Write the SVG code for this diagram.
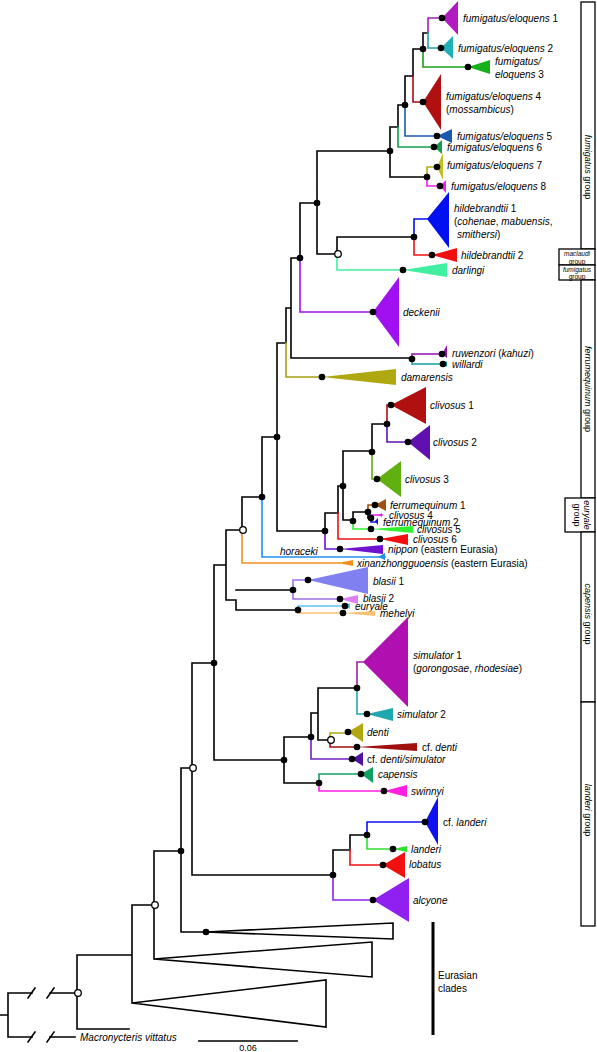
<svg xmlns="http://www.w3.org/2000/svg" width="597" height="1052" viewBox="0 0 597 1052">
<style>
.b{fill:none;stroke-width:1.6;stroke-linecap:square;stroke-linejoin:miter}
.k{stroke:#000}
.d{fill:#000}
.oc{fill:#fff;stroke:#000;stroke-width:1.3}
.eu{fill:#fff;stroke:#000;stroke-width:1.6;stroke-linejoin:miter}
text{font-family:"Liberation Sans",Arial,sans-serif;font-size:10px;fill:#000}
.i{font-style:italic}
.g{font-size:9px}
.s{font-size:6.5px}
.box{fill:#fff;stroke:#000;stroke-width:1.3}
</style>
<rect width="597" height="1052" fill="#fff"/>
<g id="connectors">
<path class="b k" d="M428,33 H423 V49 H413 V76 H405 V105 H398 V127 H390 V177 H427 M390,151 H317 V254 H337 V237 H414 M317,203 H300 V258 H291 V358 H412 M291,308 H286 V343 H277 V531 H325 V513 H338 V486 H343 V451 H372 V424 H387 M343,486 V520 H353 V512 H368 V518 H371 M277,437 H262 V497 H242 V530 H226 V600 H236 V610 H298 M236,590 H293 M226,565 H214 V760 H284 V737 H311 V713 H318 V688 H357 M318,713 V740 H330 M284,760 V783 H319 M214,663 H192 V875 H333 V850 H350 V835 H367 M192,768 H181 V932 H206 M181,851 H154 V959 M154,905 H132 V1003 M132,955 H77 V1029 H129 M77,993 H50 M32,993 H8 V1037 H32 M50,1037 H75 M0,1015 H8"/>
<path class="b k" d="M28,998 L35,988 M47,998 L54,988 M28,1042 L35,1032 M47,1042 L54,1032" stroke-linecap="butt"/>
<path class="b" stroke="#a020c0" d="M442,18 H428 V33"/>
<path class="b" stroke="#20a8b0" d="M428,33 V48 H441"/>
<path class="b" stroke="#18a018" d="M423,49 V67 H468"/>
<path class="b" stroke="#a01010" d="M413,76 V102 H423"/>
<path class="b" stroke="#1a5ab0" d="M405,105 V136 H437"/>
<path class="b" stroke="#10a050" d="M398,127 V147 H434"/>
<path class="b" stroke="#b0b010" d="M427,177 V167 H437"/>
<path class="b" stroke="#f020f0" d="M427,177 V186 H440"/>
<path class="b" stroke="#0010f0" d="M414,237 V219 H427"/>
<path class="b" stroke="#f01010" d="M414,237 V255 H432"/>
<path class="b" stroke="#40f0a0" d="M337,254 V270 H403"/>
<path class="b" stroke="#a010f0" d="M300,258 V312 H373"/>
<path class="b" stroke="#9010b0" d="M412,359 V354 H442"/>
<path class="b" stroke="#10a0a0" d="M412,359 V364 H443"/>
<path class="b" stroke="#a8a010" d="M286,343 V377 H322"/>
<path class="b" stroke="#b01010" d="M387,424 V405 H391"/>
<path class="b" stroke="#6010b0" d="M387,424 V442 H408"/>
<path class="b" stroke="#60b010" d="M372,452 V479 H377"/>
<path class="b" stroke="#a05010" d="M368,512 V505 H375"/>
<path class="b" stroke="#e020f0" d="M371,518 V515 H382"/>
<path class="b" stroke="#1010e0" d="M371,518 V522 H377"/>
<path class="b" stroke="#30f030" d="M353,521 V529 H371"/>
<path class="b" stroke="#f01010" d="M338,513 V539 H380"/>
<path class="b" stroke="#7010d0" d="M325,531 V549 H340"/>
<path class="b" stroke="#2090f0" d="M262,497 V557 H385"/>
<path class="b" stroke="#f09020" d="M242,530 V563 H340"/>
<path class="b" stroke="#a070e0" d="M293,590 V580 H308 M293,590 V599 H340"/>
<path class="b" stroke="#60c0f0" d="M298,610 V606 H345"/>
<path class="b" stroke="#f8c070" d="M298,610 V613 H343"/>
<path class="b" stroke="#a020a0" d="M357,688 V662 H363"/>
<path class="b" stroke="#20a8b0" d="M357,688 V714 H367"/>
<path class="b" stroke="#b0a810" d="M330,740 V733 H348"/>
<path class="b" stroke="#a01010" d="M330,740 V747 H357"/>
<path class="b" stroke="#7020c0" d="M311,737 V759 H352"/>
<path class="b" stroke="#10a060" d="M319,783 V774 H361"/>
<path class="b" stroke="#ff20e0" d="M319,783 V791 H384"/>
<path class="b" stroke="#1010f0" d="M367,835 V822 H425"/>
<path class="b" stroke="#30e030" d="M367,835 V849 H393"/>
<path class="b" stroke="#f01010" d="M350,850 V865 H383"/>
<path class="b" stroke="#9020f0" d="M333,875 V900 H373"/>
</g>
<g id="support">
<circle class="d" cx="423" cy="49" r="3.3"/><circle class="d" cx="405" cy="105" r="3.3"/><circle class="d" cx="390" cy="151" r="3.3"/><circle class="d" cx="427" cy="177" r="3.3"/>
<circle class="d" cx="317" cy="203" r="3.3"/><circle class="d" cx="414" cy="237" r="3.3"/><circle class="d" cx="300" cy="258" r="3.3"/><circle class="d" cx="412" cy="359" r="3.3"/>
<circle class="d" cx="277" cy="437" r="3.3"/><circle class="d" cx="387" cy="424" r="3.3"/><circle class="d" cx="372" cy="452" r="3.3"/><circle class="d" cx="343" cy="486" r="3.3"/>
<circle class="d" cx="368" cy="512" r="3.3"/><circle class="d" cx="371" cy="518" r="3.3"/><circle class="d" cx="353" cy="521" r="3.3"/><circle class="d" cx="325" cy="531" r="3.3"/>
<circle class="d" cx="262" cy="497" r="3.3"/><circle class="d" cx="293" cy="590" r="3.3"/><circle class="d" cx="298" cy="610" r="3.3"/><circle class="d" cx="214" cy="663" r="3.3"/>
<circle class="d" cx="357" cy="688" r="3.3"/><circle class="d" cx="311" cy="737" r="3.3"/><circle class="d" cx="284" cy="760" r="3.3"/><circle class="d" cx="319" cy="783" r="3.3"/>
<circle class="d" cx="367" cy="835" r="3.3"/><circle class="d" cx="333" cy="875" r="3.3"/><circle class="d" cx="181" cy="851" r="3.3"/>
<circle class="oc" cx="338" cy="254" r="3.3"/><circle class="oc" cx="243" cy="530" r="3.3"/><circle class="oc" cx="331" cy="740" r="3.3"/>
<circle class="oc" cx="193" cy="768" r="3.3"/><circle class="oc" cx="155" cy="905" r="3.3"/><circle class="oc" cx="78" cy="993" r="3.3"/>
</g>
<g id="fe1"><polygon points="442,18 458,1 458,35" fill="#b01cc0"/><circle class="d" cx="442" cy="18" r="3.3"/><text x="463" y="22"><tspan class="i">fumigatus/eloquens</tspan> 1</text></g>
<g id="fe2"><polygon points="441,48 453,36 453,59" fill="#20b0b8"/><circle class="d" cx="441" cy="48" r="3.3"/><text x="458" y="52"><tspan class="i">fumigatus/eloquens</tspan> 2</text></g>
<g id="fe3"><polygon points="468,67 490,60 490,74" fill="#18b018"/><circle class="d" cx="468" cy="67" r="3.3"/><text x="495" y="65" class="i">fumigatus/</text><text x="495" y="78"><tspan class="i">eloquens</tspan> 3</text></g>
<g id="fe4"><polygon points="423,102 441,74 441,130" fill="#b01010"/><circle class="d" cx="423" cy="102" r="3.3"/><text x="446" y="100"><tspan class="i">fumigatus/eloquens</tspan> 4</text><text x="446" y="113">(<tspan class="i">mossambicus</tspan>)</text></g>
<g id="fe5"><polygon points="437,136 452,129 452,143" fill="#1a5ab0"/><circle class="d" cx="437" cy="136" r="3.3"/><text x="457" y="140"><tspan class="i">fumigatus/eloquens</tspan> 5</text></g>
<g id="fe6"><polygon points="434,147 442,140 442,154" fill="#10a050"/><circle class="d" cx="434" cy="147" r="3.3"/><text x="447" y="151"><tspan class="i">fumigatus/eloquens</tspan> 6</text></g>
<g id="fe7"><polygon points="437,167 443,153 443,180" fill="#c0c020"/><circle class="d" cx="437" cy="167" r="3.3"/><text x="447" y="169"><tspan class="i">fumigatus/eloquens</tspan> 7</text></g>
<g id="fe8"><polygon points="440,186 446,180 446,193" fill="#f020f0"/><circle class="d" cx="440" cy="186" r="3.3"/><text x="451" y="190"><tspan class="i">fumigatus/eloquens</tspan> 8</text></g>
<g id="hild1"><polygon points="427,219 449,192 449,248" fill="#0010f0"/><text x="454" y="212"><tspan class="i">hildebrandtii</tspan> 1</text><text x="454" y="225">(<tspan class="i">cohenae</tspan>, <tspan class="i">mabuensis</tspan>,</text><text x="457" y="238"><tspan class="i">smithersi</tspan>)</text></g>
<g id="hild2"><polygon points="432,255 457,248 457,262" fill="#f01010"/><circle class="d" cx="432" cy="255" r="3.3"/><text x="461" y="259"><tspan class="i">hildebrandtii</tspan> 2</text></g>
<g id="darlingi"><polygon points="403,270 447,263 447,277" fill="#40f0a0"/><circle class="d" cx="403" cy="270" r="3.3"/><text x="452" y="274" class="i">darlingi</text></g>
<g id="deckenii"><polygon points="373,312 399,277 399,347" fill="#a010f0"/><circle class="d" cx="373" cy="312" r="3.3"/><text x="403" y="316" class="i">deckenii</text></g>
<g id="ruwenzori"><polygon points="442,354 447,345 447,358" fill="#9010b0"/><circle class="d" cx="442" cy="354" r="3.3"/><text x="452" y="357"><tspan class="i">ruwenzori</tspan> (<tspan class="i">kahuzi</tspan>)</text></g>
<g id="willardi"><polygon points="443,364 447,361 447,367" fill="#10a0a0"/><circle class="d" cx="443" cy="364" r="3.3"/><text x="452" y="368" class="i">willardi</text></g>
<g id="damarensis"><polygon points="322,377 396,369 396,385" fill="#b0a810"/><circle class="d" cx="322" cy="377" r="3.3"/><text x="401" y="381" class="i">damarensis</text></g>
<g id="clivosus1"><polygon points="391,405 426,387 426,424" fill="#b01010"/><circle class="d" cx="391" cy="405" r="3.3"/><text x="430" y="409"><tspan class="i">clivosus</tspan> 1</text></g>
<g id="clivosus2"><polygon points="408,442 430,425 430,460" fill="#6010b0"/><circle class="d" cx="408" cy="442" r="3.3"/><text x="433" y="446"><tspan class="i">clivosus</tspan> 2</text></g>
<g id="clivosus3"><polygon points="377,479 401,461 401,497" fill="#60b010"/><circle class="d" cx="377" cy="479" r="3.3"/><text x="405" y="483"><tspan class="i">clivosus</tspan> 3</text></g>
<g id="ferrum1"><polygon points="375,505 386,499 386,511" fill="#a05010"/><circle class="d" cx="375" cy="505" r="3.3"/><text x="390" y="509"><tspan class="i">ferrumequinum</tspan> 1</text></g>
<g id="clivosus4"><polygon points="378,515 382,513 382,517" fill="#e020f0"/><text x="389" y="519"><tspan class="i">clivosus</tspan> 4</text></g>
<g id="ferrum2"><polygon points="375,521 378,518 378,525" fill="#1010e0"/><text x="383" y="526"><tspan class="i">ferrumequinum</tspan> 2</text></g>
<g id="clivosus5"><polygon points="371,529 413,526 413,533" fill="#30f030"/><circle class="d" cx="371" cy="529" r="3.3"/><text x="417" y="533"><tspan class="i">clivosus</tspan> 5</text></g>
<g id="clivosus6"><polygon points="380,539 408,534 408,545" fill="#f01010"/><circle class="d" cx="380" cy="539" r="3.3"/><text x="413" y="543"><tspan class="i">clivosus</tspan> 6</text></g>
<g id="nippon"><polygon points="340,549 383,545 383,554" fill="#7010d0"/><circle class="d" cx="340" cy="549" r="3.3"/><text x="388" y="553"><tspan class="i">nippon</tspan> (eastern Eurasia)</text></g>
<g id="horaceki"><polygon points="378,557 385,553 385,560" fill="#2090f0"/><text x="280" y="555" class="i">horaceki</text></g>
<g id="xinanzhongguoensis"><polygon points="338,563 353,560 353,566" fill="#f09020"/><text x="357" y="567"><tspan class="i">xinanzhongguoensis</tspan> (eastern Eurasia)</text></g>
<g id="blasii1"><polygon points="308,580 368,567 368,594" fill="#8080f0"/><circle class="d" cx="308" cy="580" r="3.3"/><text x="373" y="585"><tspan class="i">blasii</tspan> 1</text></g>
<g id="blasii2"><polygon points="340,599 358,595 358,604" fill="#e080f0"/><circle class="d" cx="340" cy="599" r="3.3"/><text x="363" y="602"><tspan class="i">blasii</tspan> 2</text></g>
<g id="euryale"><polygon points="345,606 350,603 350,609" fill="#60c0f0"/><circle class="d" cx="345" cy="606" r="3.3"/><text x="355" y="610" class="i">euryale</text></g>
<g id="mehelyi"><polygon points="343,613 375,611 375,616" fill="#f8c070"/><circle class="d" cx="343" cy="613" r="3.3"/><text x="380" y="617" class="i">mehelyi</text></g>
<g id="simulator1"><polygon points="363,662 408,617 408,707" fill="#b010b0"/><text x="413" y="659"><tspan class="i">simulator</tspan> 1</text><text x="413" y="672">(<tspan class="i">gorongosae</tspan>, <tspan class="i">rhodesiae</tspan>)</text></g>
<g id="simulator2"><polygon points="367,714 393,708 393,721" fill="#20a8b0"/><circle class="d" cx="367" cy="714" r="3.3"/><text x="397" y="718"><tspan class="i">simulator</tspan> 2</text></g>
<g id="denti"><polygon points="348,732 363,723 363,742" fill="#b0a810"/><circle class="d" cx="348" cy="732" r="3.3"/><text x="367" y="736" class="i">denti</text></g>
<g id="cfdenti"><polygon points="357,747 417,743 417,751" fill="#a01010"/><circle class="d" cx="357" cy="747" r="3.3"/><text x="422" y="751">cf. <tspan class="i">denti</tspan></text></g>
<g id="cfdentisimulator"><polygon points="352,759 363,752 363,766" fill="#5010a0"/><circle class="d" cx="352" cy="759" r="3.3"/><text x="367" y="763">cf. <tspan class="i">denti/simulator</tspan></text></g>
<g id="capensis"><polygon points="361,774 373,767 373,783" fill="#10a060"/><circle class="d" cx="361" cy="774" r="3.3"/><text x="378" y="778" class="i">capensis</text></g>
<g id="swinnyi"><polygon points="384,791 407,785 407,797" fill="#ff20e0"/><circle class="d" cx="384" cy="791" r="3.3"/><text x="411" y="795" class="i">swinnyi</text></g>
<g id="cflanderi"><polygon points="425,822 438,797 438,845" fill="#1010f0"/><circle class="d" cx="425" cy="822" r="3.3"/><text x="443" y="826">cf. <tspan class="i">landeri</tspan></text></g>
<g id="landeri"><polygon points="393,849 407,846 407,852" fill="#30e030"/><circle class="d" cx="393" cy="849" r="3.3"/><text x="411" y="853" class="i">landeri</text></g>
<g id="lobatus"><polygon points="383,865 405,852 405,878" fill="#f01010"/><circle class="d" cx="383" cy="865" r="3.3"/><text x="409" y="868" class="i">lobatus</text></g>
<g id="alcyone"><polygon points="373,900 409,878 409,922" fill="#9020f0"/><circle class="d" cx="373" cy="900" r="3.3"/><text x="413" y="904" class="i">alcyone</text></g>
<g id="eurasian1"><polygon class="eu" points="206,932 393,923 393,939"/><circle class="d" cx="206" cy="932" r="3.3"/></g>
<g id="eurasian2"><polygon class="eu" points="154,959 372,942 372,977"/></g>
<g id="eurasian3"><polygon class="eu" points="132,1003 326,980 326,1027"/></g>
<g id="outgroup"><text x="80" y="1041" class="i">Macronycteris vittatus</text></g>
<g id="eurasian-label"><line x1="433" y1="922" x2="433" y2="1035" stroke="#000" stroke-width="3"/><text x="438" y="979">Eurasian</text><text x="438" y="992">clades</text></g>
<g id="scale"><line x1="198" y1="1041" x2="298" y2="1041" stroke="#000" stroke-width="1.6"/><text x="248" y="1051" text-anchor="middle" class="g">0.06</text></g>
<g id="group-fumigatus"><rect class="box" x="581" y="2" width="14" height="247"/><text class="g" text-anchor="middle" transform="translate(585,167) rotate(90)"><tspan class="i">fumigatus</tspan> group</text></g>
<g id="group-maclaudi"><rect class="box" x="559" y="249" width="36" height="16"/><text class="s" x="577" y="256" text-anchor="middle"><tspan class="i">maclaudi</tspan></text><text class="s" x="577" y="263.5" text-anchor="middle">group</text></g>
<g id="group-fumigatus2"><rect class="box" x="559" y="265" width="36" height="15"/><text class="s" x="577" y="271.5" text-anchor="middle"><tspan class="i">fumigatus</tspan></text><text class="s" x="577" y="278.5" text-anchor="middle">group</text></g>
<g id="group-ferrumequinum"><rect class="box" x="581" y="280" width="14" height="218"/><text class="g" text-anchor="middle" transform="translate(585,389) rotate(90)"><tspan class="i">ferrumequinum</tspan> group</text></g>
<g id="group-euryale"><rect class="box" x="565" y="498" width="30" height="34"/><text class="g" text-anchor="middle" transform="translate(584,515) rotate(90)"><tspan class="i">euryale</tspan></text><text class="g" text-anchor="middle" transform="translate(574,515) rotate(90)">group</text></g>
<g id="group-capensis"><rect class="box" x="581" y="532" width="14" height="170"/><text class="g" text-anchor="middle" transform="translate(585,614) rotate(90)"><tspan class="i">capensis</tspan> group</text></g>
<g id="group-landeri"><rect class="box" x="581" y="702" width="14" height="224"/><text class="g" text-anchor="middle" transform="translate(585,810) rotate(90)"><tspan class="i">landeri</tspan> group</text></g>
</svg>
